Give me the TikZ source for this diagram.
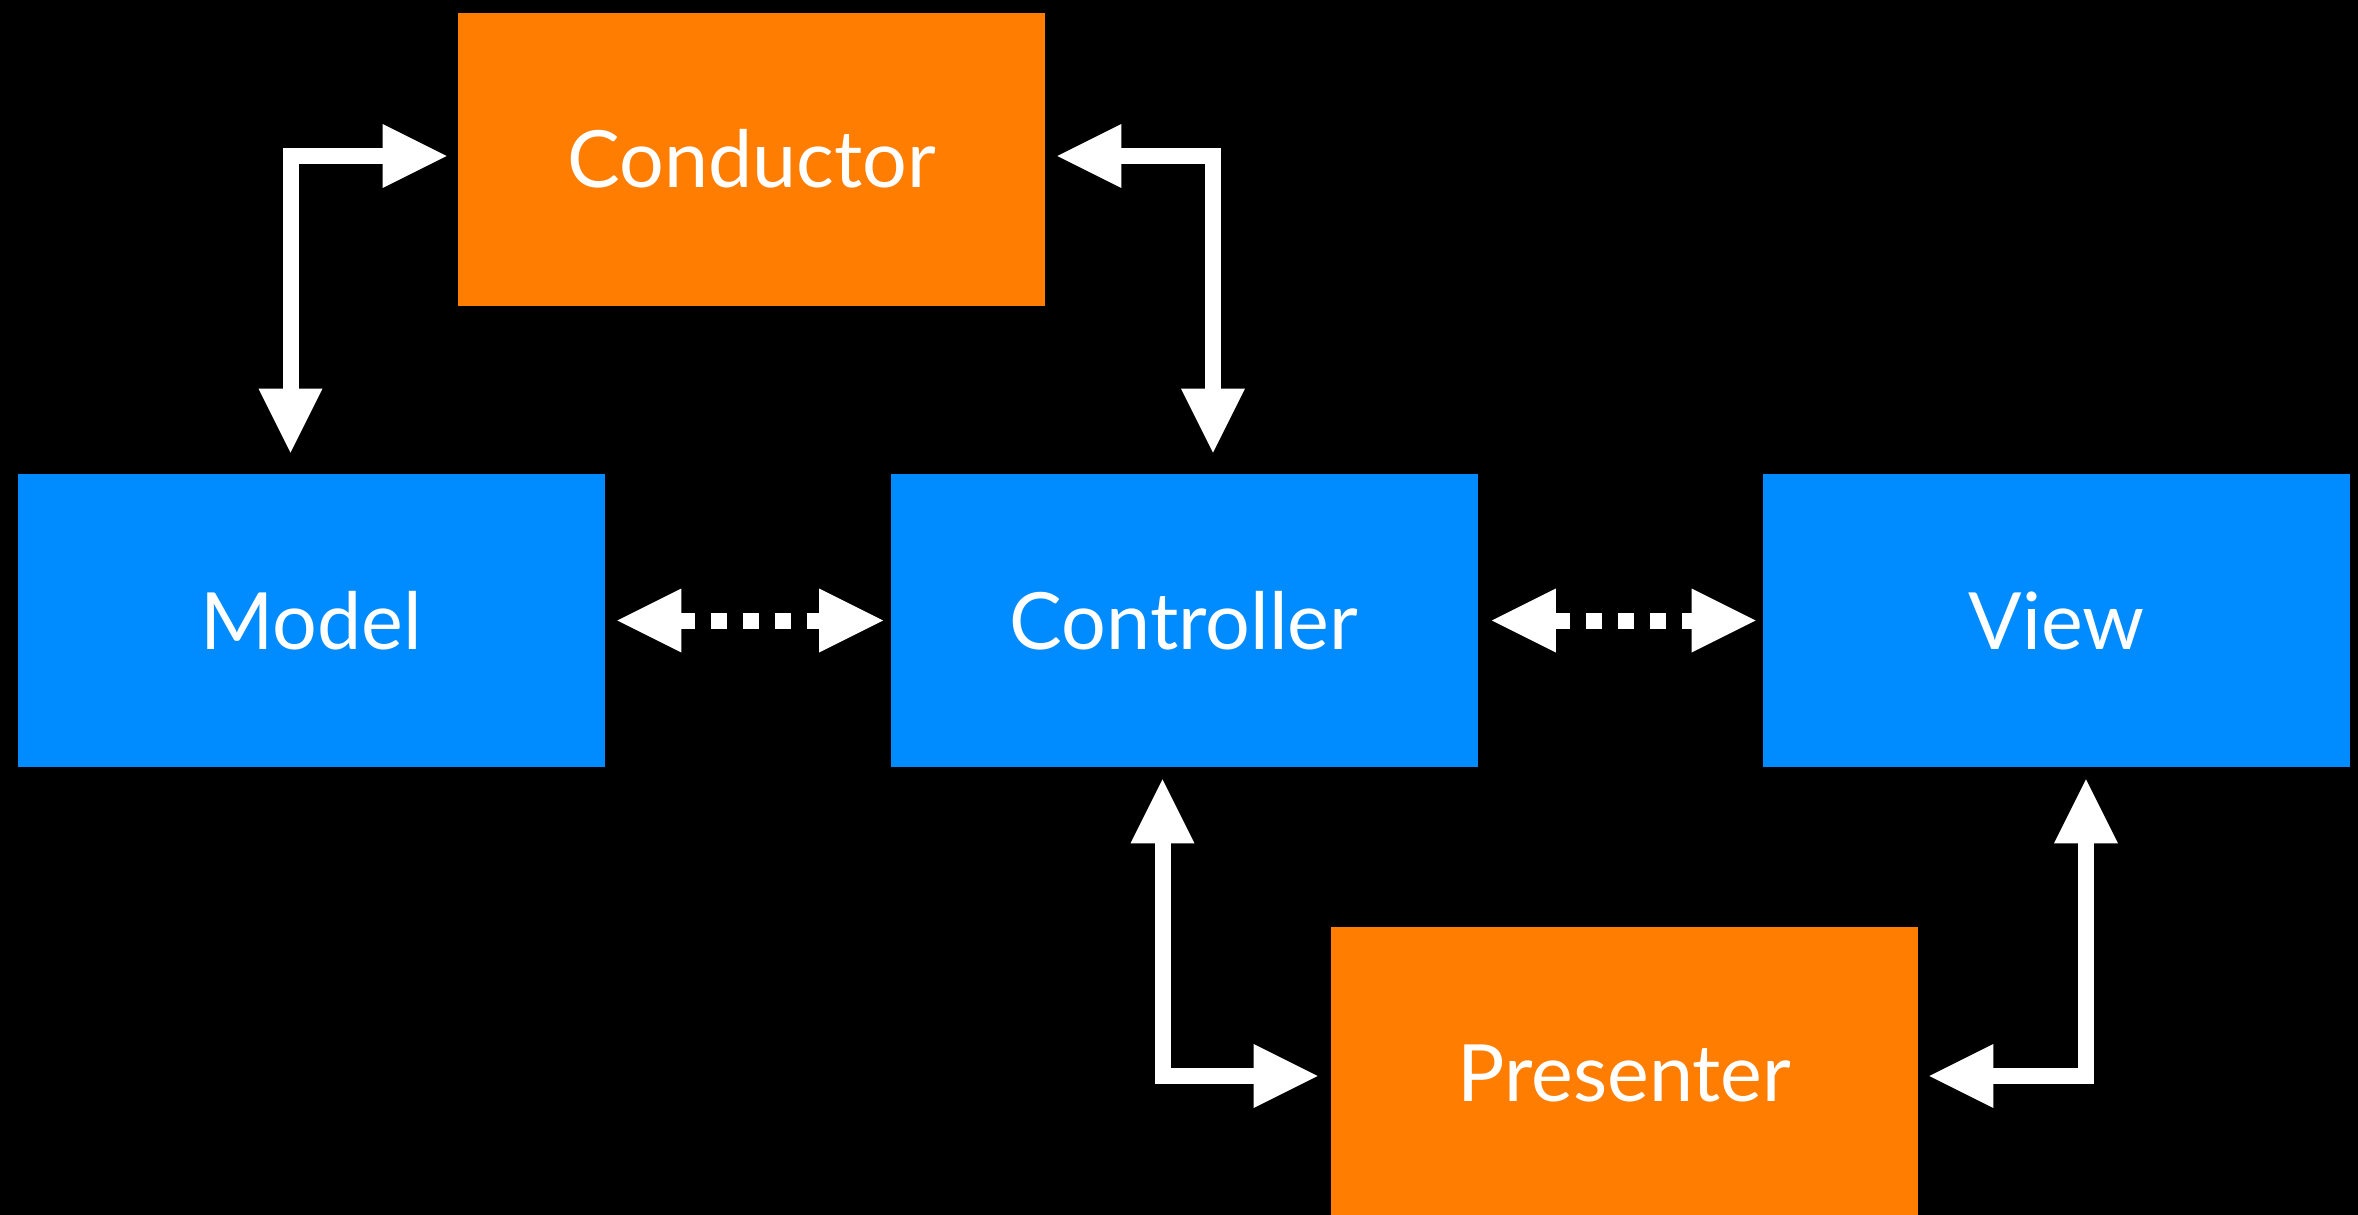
\documentclass[tikz,border=0pt]{standalone}
\usepackage{fontspec}
\setmainfont{Lato}
\usepackage{tikz}
\usetikzlibrary{arrows.meta}
\definecolor{Blue}{HTML}{008CFF}
\definecolor{Orange}{HTML}{FF7D00}

\begin{document}
\begin{tikzpicture}[x=0.5pt,y=-0.5pt,
  box/.style={minimum width=293.5pt,minimum height=146.5pt,inner sep=0pt,text=white,font=\fontsize{39.5}{45}\selectfont},
  link/.style={white,line width=8pt,line join=miter,>={Triangle[length=32pt,width=32pt,line width=0pt]},<->},
  dotlink/.style={link,dash pattern=on 8pt off 8pt,dash phase=1pt}]
  \useasboundingbox (0,0) rectangle (2358,1215);
  \fill[black] (0,0) rectangle (2358,1215);

  % boxes
  \node[box,fill=Orange] (conductor) at (751.5,159)   {Conductor};
  \node[box,fill=Blue]   (model)     at (311.5,620.5) {Model};
  \node[box,fill=Blue]   (controller) at (1184,620.5) {Controller};
  \node[box,fill=Blue]   (view)      at (2056.5,620.5) {View};
  \node[box,fill=Orange] (presenter) at (1624.5,1073.5) {Presenter};

  % links
  \draw[link] ([shift={(-11,-3)}]conductor.west) -| ([shift={(-21,-21)}]model.north);
  \draw[link] ([shift={(12,-3)}]conductor.east) -| ([shift={(29,-21)}]controller.north);
  \draw[dotlink] ([xshift=6pt]model.east) -- ([xshift=-3.5pt]controller.west);
  \draw[dotlink] ([xshift=7pt]controller.east) -- ([xshift=-3.5pt]view.west);
  \draw[link] ([shift={(-21.5,12)}]controller.south) |- ([shift={(-13,2.5)}]presenter.west);
  \draw[link] ([shift={(11,2.5)}]presenter.east) -| ([shift={(29.5,12)}]view.south);
\end{tikzpicture}
\end{document}
